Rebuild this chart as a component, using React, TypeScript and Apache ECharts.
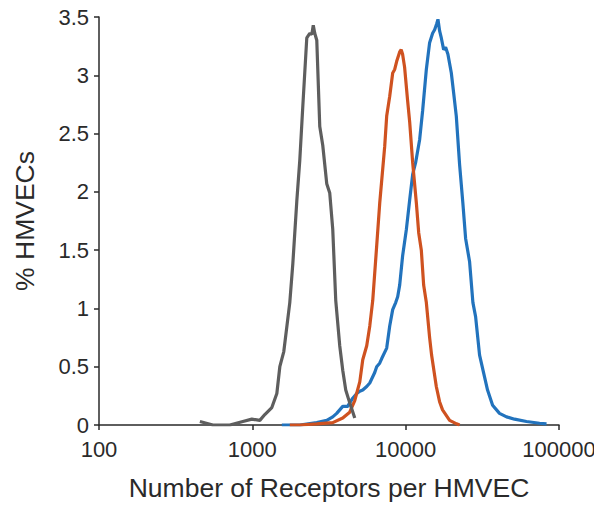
import React, { useEffect, useRef } from "react";
import * as echarts from "echarts";

// Receptor count (x) and % HMVECs (y) for each distribution
const grayX = [455, 553, 713, 867, 993, 1119, 1206, 1340, 1445, 1511, 1604, 1755, 1836, 1950, 2039, 2133, 2265, 2370, 2443, 2497, 2553, 2632, 2753, 2879, 3057, 3198, 3345, 3499, 3715, 3887, 4066, 4317, 4655];
const grayY = [0.03, 0.0, 0.0, 0.03, 0.05, 0.04, 0.09, 0.15, 0.27, 0.5, 0.63, 1.05, 1.38, 1.92, 2.27, 2.73, 3.32, 3.36, 3.35, 3.43, 3.36, 3.3, 2.56, 2.4, 2.07, 1.99, 1.68, 1.07, 0.68, 0.47, 0.3, 0.19, 0.06];

const orangeX = [1755, 2039, 2632, 3345, 3887, 4317, 4655, 5020, 5250, 5572, 5834, 6100, 6442, 6770, 7300, 7520, 7870, 8230, 8480, 8740, 9140, 9350, 9550, 9840, 10300, 10620, 11110, 11750, 12160, 12650, 13100, 13640, 14330, 14760, 15840, 16640, 17400, 19350, 21480, 22490];
const orangeY = [0.0, 0.0, 0.01, 0.02, 0.06, 0.11, 0.21, 0.37, 0.56, 0.68, 0.85, 1.07, 1.5, 1.9, 2.39, 2.65, 2.82, 3.02, 3.05, 3.12, 3.2, 3.22, 3.18, 3.07, 2.78, 2.6, 2.25, 1.9, 1.65, 1.5, 1.2, 1.05, 0.75, 0.6, 0.33, 0.2, 0.13, 0.04, 0.01, 0.0];

const blueX = [1557, 2039, 2632, 3057, 3345, 3550, 3887, 4188, 4317, 4515, 4796, 5020, 5250, 5572, 5834, 6284, 6471, 6770, 6980, 7520, 7870, 8230, 8610, 8870, 9140, 9550, 10110, 10620, 11110, 11610, 12340, 12910, 13640, 14330, 14990, 15450, 15920, 16240, 16650, 17080, 17690, 18220, 18860, 19850, 20550, 21390, 22490, 23620, 24600, 26120, 27450, 28580, 30340, 32210, 34200, 36900, 40930, 45500, 51290, 61380, 74650, 82920];
const blueY = [0.0, 0.0, 0.02, 0.04, 0.07, 0.1, 0.16, 0.16, 0.19, 0.23, 0.27, 0.29, 0.3, 0.33, 0.36, 0.45, 0.5, 0.53, 0.57, 0.66, 0.85, 0.99, 1.05, 1.1, 1.2, 1.45, 1.68, 1.93, 2.15, 2.25, 2.45, 2.7, 3.05, 3.28, 3.36, 3.39, 3.44, 3.48, 3.38, 3.32, 3.22, 3.24, 3.18, 3.02, 2.85, 2.65, 2.23, 1.9, 1.6, 1.4, 1.05, 0.93, 0.6, 0.45, 0.3, 0.17, 0.1, 0.07, 0.05, 0.03, 0.015, 0.01];

const xTicks = [100, 1000, 10000, 100000];
const yMin = 0;
const yMax = 3.5;
const yStep = 0.5;

const xTitle = "Number of Receptors per HMVEC";
const yTitle = "% HMVECs";

const FONT = "'Liberation Sans', Arial, Helvetica, sans-serif";
const AXIS_COLOR = "#2a2a2a";

const zip = (xs: number[], ys: number[]) => xs.map((x, i) => [x, ys[i]]);

export default function App() {
  const ref = useRef<HTMLDivElement>(null);

  useEffect(() => {
    if (!ref.current) return;
    const chart = echarts.init(ref.current, undefined, { renderer: "svg" });
    chart.setOption({
      animation: false,
      backgroundColor: "#ffffff",
      textStyle: { fontFamily: FONT },
      grid: { left: 99, right: 43, top: 17, bottom: 81, containLabel: false },
      xAxis: {
        type: "log",
        logBase: 10,
        min: xTicks[0],
        max: xTicks[xTicks.length - 1],
        name: xTitle,
        nameLocation: "middle",
        nameGap: 49,
        nameTextStyle: { fontSize: 26.5, color: AXIS_COLOR, fontFamily: FONT },
        axisLine: { show: true, lineStyle: { color: AXIS_COLOR, width: 1.5 } },
        axisTick: { show: true, length: 5, lineStyle: { color: AXIS_COLOR, width: 1.5 } },
        axisLabel: {
          fontSize: 22,
          lineHeight: 22,
          color: AXIS_COLOR,
          margin: 13,
          fontFamily: FONT,
          formatter: (v: number) => String(Math.round(v)),
        },
        splitLine: { show: false },
        minorTick: { show: false },
      },
      yAxis: {
        type: "value",
        min: yMin,
        max: yMax,
        interval: yStep,
        name: yTitle,
        nameLocation: "middle",
        nameGap: 61,
        nameRotate: 90,
        nameTextStyle: { fontSize: 26.5, color: AXIS_COLOR, fontFamily: FONT },
        axisLine: { show: true, lineStyle: { color: AXIS_COLOR, width: 1.5 } },
        axisTick: { show: true, length: 5, lineStyle: { color: AXIS_COLOR, width: 1.5 } },
        axisLabel: { fontSize: 22, lineHeight: 22, color: AXIS_COLOR, margin: 10, fontFamily: FONT },
        splitLine: { show: false },
      },
      series: [
        {
          name: "blue",
          type: "line",
          data: zip(blueX, blueY),
          showSymbol: false,
          lineStyle: { color: "#2273BD", width: 3.2 },
          itemStyle: { color: "#2273BD" },
        },
        {
          name: "orange",
          type: "line",
          data: zip(orangeX, orangeY),
          showSymbol: false,
          lineStyle: { color: "#CF5220", width: 3.2 },
          itemStyle: { color: "#CF5220" },
        },
        {
          name: "gray",
          type: "line",
          data: zip(grayX, grayY),
          showSymbol: false,
          lineStyle: { color: "#5E5E5E", width: 3.2 },
          itemStyle: { color: "#5E5E5E" },
        },
      ],
    });
    return () => chart.dispose();
  }, []);

  return <div ref={ref} style={{ width: 602, height: 506, marginLeft: -8, marginTop: -8 }} />;
}
